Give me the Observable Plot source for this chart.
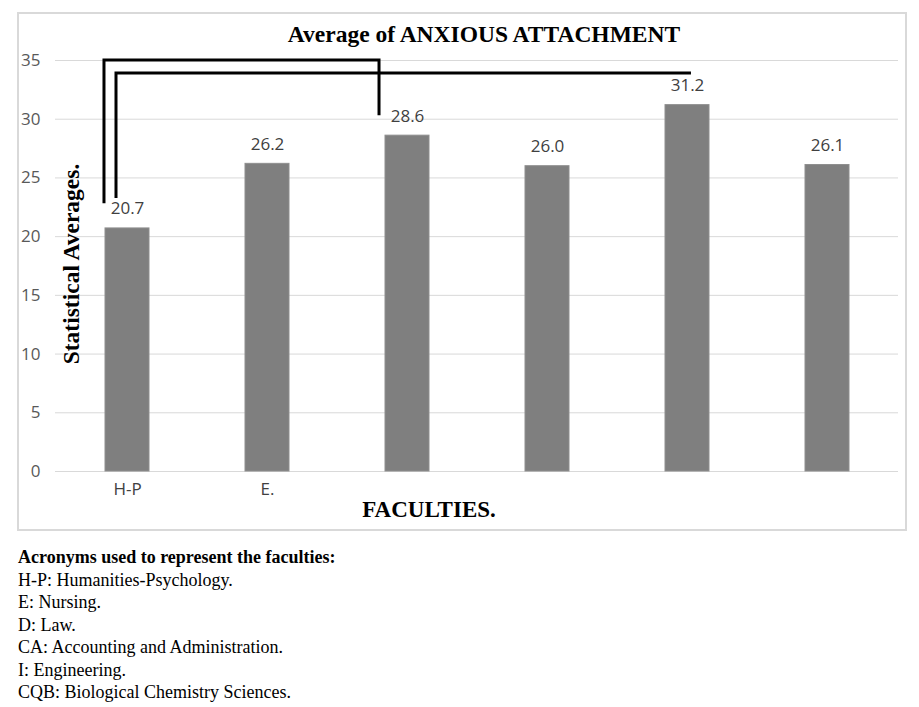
<!DOCTYPE html>
<html>
<head>
<meta charset="utf-8">
<script src="https://cdn.jsdelivr.net/npm/d3@7"></script>
<script src="https://cdn.jsdelivr.net/npm/@observablehq/plot@0.6"></script>
<style>
  html, body { margin: 0; padding: 0; background: #fff; }
  #page { position: relative; width: 919px; height: 707px; }
  #chart { position: absolute; left: 0; top: 0; }
  #frame { position: absolute; left: 17px; top: 12px; width: 890px; height: 519px; box-sizing: border-box; border: 2px solid #d9d9d9; pointer-events: none; }
  #notes { position: absolute; left: 18px; top: 546px; font-family: "Liberation Serif", "Times New Roman", serif; font-size: 18px; line-height: 22.5px; color: #000; }
  #notes b { font-weight: bold; }
</style>
</head>
<body>
<div id="page">
  <div id="chart"></div>
  <div id="frame"></div>
  <div id="notes">
    <div><b>Acronyms used to represent the faculties:</b></div>
    <div>H-P: Humanities-Psychology.</div>
    <div>E: Nursing.</div>
    <div>D: Law.</div>
    <div>CA: Accounting and Administration.</div>
    <div>I: Engineering.</div>
    <div>CQB: Biological Chemistry Sciences.</div>
  </div>
</div>
<script>
const categories = ["H-P", "E", "D", "CA", "I", "CQB"];
const values = [20.7, 26.2, 28.6, 26.0, 31.2, 26.1];
const tickLabels = ["H-P", "E.", "", "", "", ""];
const yTicks = [0, 5, 10, 15, 20, 25, 30, 35];
const titleText = "Average of ANXIOUS ATTACHMENT";
const yLabel = "Statistical Averages.";
const xLabel = "FACULTIES.";

// Comparison brackets (category, fraction of bar width from bar start, value levels)
const bracketFrom = ["H-P", "H-P"];
const bracketFromPos = [-0.023, 0.25];
const bracketTo = ["D", "I"];
const bracketToPos = [-0.136, 0.59];
const bracketTop = [35, 33.9];
const bracketLeftEnd = [22.8, 23.25];
const bracketRightEnd = [30.3, 33.9];

const data = categories.map((c, i) => ({cat: c, value: values[i]}));

const plot = Plot.plot({
  width: 919,
  height: 531,
  marginLeft: 55,
  marginRight: 21,
  marginTop: 60,
  marginBottom: 60,
  style: {background: "transparent", fontFamily: "'Open Sans', sans-serif", fontSize: "17px", overflow: "visible"},
  x: {domain: categories, paddingInner: 0.687, paddingOuter: 0.3435, align: 0.5, label: null},
  y: {domain: [0, 35], label: null},
  marks: [
    Plot.gridY(yTicks, {stroke: "#d9d9d9", strokeOpacity: 1, strokeWidth: 1}),
    Plot.barY(data, {x: "cat", y: "value", fill: "#7f7f7f", stroke: "#8f8f8f", strokeWidth: 1}),
    Plot.text(data, {x: "cat", y: "value", text: d => d.value.toFixed(1), lineAnchor: "bottom", dy: -14, fill: "#404040", fontSize: 17}),
    Plot.axisY({ticks: yTicks, tickSize: 0, tickPadding: 15, fontSize: 17, fill: "#595959", label: null}),
    Plot.axisX({tickSize: 0, tickPadding: 11, fontSize: 17, fill: "#404040", label: null,
      tickFormat: d => tickLabels[categories.indexOf(d)]})
  ]
});

document.getElementById("chart").appendChild(plot);

const xs = plot.scale("x");
const ys = plot.scale("y");
const X = (c, f) => xs.apply(c) + f * xs.bandwidth;
const Y = v => ys.apply(v);
const svg = d3.select(plot);

const g = svg.append("g").attr("fill", "none").attr("stroke", "#000").attr("stroke-width", 3);
bracketFrom.forEach((c, i) => {
  const x1 = X(c, bracketFromPos[i]);
  const x2 = X(bracketTo[i], bracketToPos[i]);
  const yt = Y(bracketTop[i]);
  g.append("path").attr("d",
    `M${x1},${Y(bracketLeftEnd[i])}V${yt}H${x2}V${Y(bracketRightEnd[i])}`);
});

svg.append("text")
  .attr("x", 484).attr("y", 42)
  .attr("text-anchor", "middle")
  .attr("font-family", "'Liberation Serif', 'Times New Roman', serif")
  .attr("font-weight", "bold").attr("font-size", 23.5).attr("fill", "#000")
  .text(titleText);

svg.append("text")
  .attr("transform", "translate(79,264) rotate(-90)")
  .attr("text-anchor", "middle")
  .attr("font-family", "'Liberation Serif', 'Times New Roman', serif")
  .attr("font-weight", "bold").attr("font-size", 23.5).attr("fill", "#000")
  .text(yLabel);

svg.append("text")
  .attr("x", 429).attr("y", 517)
  .attr("text-anchor", "middle")
  .attr("font-family", "'Liberation Serif', 'Times New Roman', serif")
  .attr("font-weight", "bold").attr("font-size", 23).attr("fill", "#000")
  .text(xLabel);
</script>
</body>
</html>
